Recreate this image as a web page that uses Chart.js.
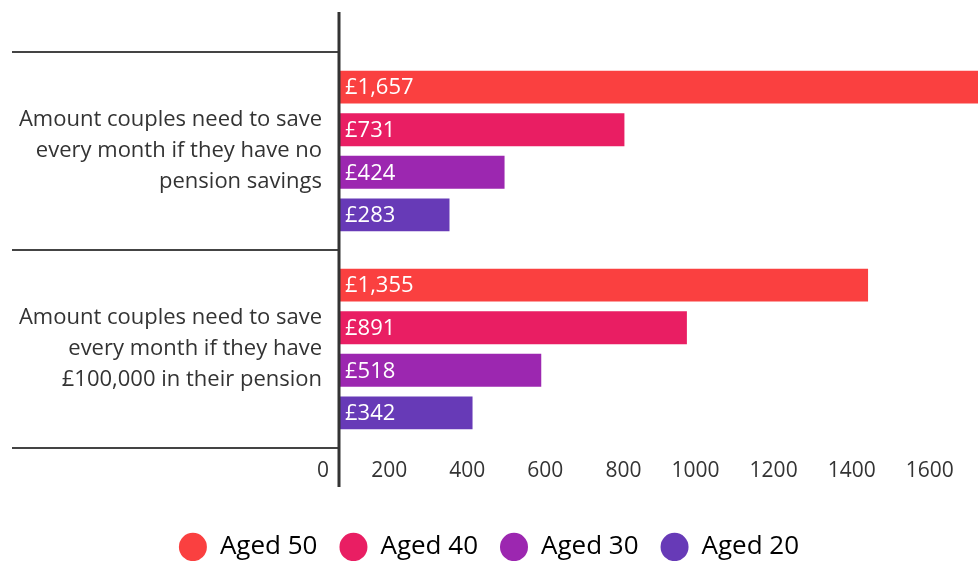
<!DOCTYPE html>
<html>
<head>
<meta charset="utf-8">
<title>Monthly saving needed by couples</title>
<script src="https://cdn.jsdelivr.net/npm/chart.js@4/dist/chart.umd.min.js"></script>
<style>
  html, body { margin: 0; padding: 0; background: #fff; }
  #wrap { width: 978px; height: 561px; position: relative; }
</style>
</head>
<body>
<div id="wrap"><canvas id="savingsChart"></canvas></div>
<script>
'use strict';

// ── Data ──────────────────────────────────────────────────────
const CATEGORIES = [
  ['Amount couples need to save', 'every month if they have no', 'pension savings'],
  ['Amount couples need to save', 'every month if they have', '£100,000 in their pension'],
];
const SERIES_NAMES = ['Aged 50', 'Aged 40', 'Aged 30', 'Aged 20'];
const AGED_50 = [1657, 1355];
const AGED_40 = [731, 891];
const AGED_30 = [424, 518];
const AGED_20 = [283, 342];
const X_TICKS = [0, 200, 400, 600, 800, 1000, 1200, 1400, 1600];
const X_MAX   = 1634;   // right edge of the plot, longest bar is cut off

const COLORS = ['#fa4040', '#e91e63', '#9c27b0', '#673ab7'];
const FONT   = "'Open Sans', 'Noto Sans', sans-serif";

Chart.defaults.font.family = FONT;
Chart.defaults.color       = '#333';

// ── Plugins ───────────────────────────────────────────────────
// category separators on the left + tall vertical axis line
const frameLines = {
  id: 'frameLines',
  afterDatasetsDraw(chart) {
    const { ctx, scales: { x, y } } = chart;
    const axisX = x.getPixelForValue(0) - 1;
    ctx.save();
    ctx.strokeStyle = '#444';
    ctx.lineWidth = 2;
    for (let i = 0; i <= CATEGORIES.length; i++) {
      const py = Math.round(y.getPixelForValue(i - 0.5));
      ctx.beginPath();
      ctx.moveTo(12, py);
      ctx.lineTo(axisX, py);
      ctx.stroke();
    }
    ctx.strokeStyle = '#333';
    ctx.lineWidth = 3;
    ctx.beginPath();
    ctx.moveTo(axisX, 12);
    ctx.lineTo(axisX, 487);
    ctx.stroke();
    ctx.restore();
  },
};

// "£1,657" style labels just inside the start of each bar
const barValues = {
  id: 'barValues',
  afterDatasetsDraw(chart) {
    const { ctx } = chart;
    ctx.save();
    ctx.font = `22px ${FONT}`;
    ctx.fillStyle = '#fff';
    ctx.textAlign = 'left';
    ctx.textBaseline = 'middle';
    chart.data.datasets.forEach((ds, di) => {
      chart.getDatasetMeta(di).data.forEach((bar, i) => {
        const txt = '£' + ds.data[i].toLocaleString('en-GB');
        ctx.fillText(txt, bar.base + 5, bar.y + 1);
      });
    });
    ctx.restore();
  },
};

// ── Chart ─────────────────────────────────────────────────────
const seriesData = [AGED_50, AGED_40, AGED_30, AGED_20];

new Chart(document.getElementById('savingsChart'), {
  type: 'bar',
  data: {
    labels: CATEGORIES,
    datasets: SERIES_NAMES.map((name, i) => ({
      label: name,
      data: seriesData[i],
      backgroundColor: COLORS[i],
      borderColor: 'rgba(255,255,255,0.45)',
      borderWidth: 1,
      categoryPercentage: 0.86,
      barPercentage: 0.82,
    })),
  },
  options: {
    indexAxis: 'y',
    responsive: true,
    maintainAspectRatio: false,
    animation: false,
    layout: { padding: { top: 52, left: 0, right: 0, bottom: -9 } },
    plugins: {
      tooltip: { enabled: false },
      legend: {
        position: 'bottom',
        labels: {
          usePointStyle: true,
          pointStyle: 'circle',
          boxHeight: 20,
          pointStyleWidth: 28,
          padding: 22,
          color: '#444',
          font: { size: 26 },
          generateLabels(chart) {
            return chart.data.datasets.map((ds, i) => ({
              text: ds.label,
              fillStyle: COLORS[i],
              strokeStyle: COLORS[i],
              lineWidth: 0,
              pointStyle: 'circle',
              datasetIndex: i,
            }));
          },
        },
      },
    },
    scales: {
      x: {
        min: 0,
        max: X_MAX,
        afterBuildTicks(scale) {
          scale.ticks = X_TICKS.map(v => ({ value: v }));
        },
        afterFit(scale) { scale.height = 64; },
        grid: { display: false, drawTicks: false },
        border: { display: false },
        ticks: {
          align: 'end',
          padding: 10,
          color: '#333',
          font: { size: 21 },
          callback: v => v + '  ',
        },
      },
      y: {
        afterFit(scale) {
          scale.width = 340;
          scale.paddingTop = 0;
          scale.paddingBottom = 0;
        },
        grid: { display: false, drawTicks: false },
        border: { display: false },
        ticks: {
          padding: 18,
          color: '#333',
          font: { size: 22, lineHeight: 1.41 },
        },
      },
    },
  },
  plugins: [frameLines, barValues],
});
</script>
</body>
</html>
